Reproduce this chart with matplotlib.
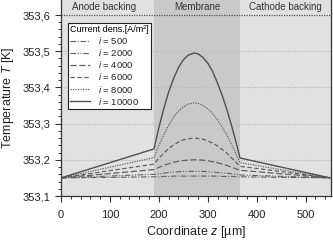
import matplotlib
matplotlib.use("Agg")
import matplotlib.pyplot as plt
from matplotlib.ticker import FuncFormatter, FixedLocator, MultipleLocator

plt.rcParams['font.family'] = ['Liberation Sans', 'DejaVu Sans']
plt.rcParams['mathtext.fontset'] = 'custom'
plt.rcParams['mathtext.it'] = 'Liberation Sans:italic'
plt.rcParams['mathtext.rm'] = 'Liberation Sans'

# ---- data ----
z_um = [0, 190, 200, 210, 220, 230, 240, 250, 260, 272, 280, 290, 300, 310,
        320, 330, 340, 350, 358, 366, 550]

T_500 = [353.150, 353.153, 353.153, 353.154, 353.154, 353.155, 353.155, 353.155,
         353.155, 353.155, 353.155, 353.155, 353.155, 353.155, 353.155, 353.154,
         353.154, 353.154, 353.153, 353.153, 353.150]
T_2000 = [353.150, 353.160, 353.161, 353.163, 353.165, 353.166, 353.167, 353.168,
          353.168, 353.168, 353.168, 353.168, 353.167, 353.166, 353.165, 353.164,
          353.163, 353.161, 353.160, 353.158, 353.150]
T_4000 = [353.150, 353.173, 353.179, 353.185, 353.189, 353.193, 353.196, 353.198,
          353.199, 353.200, 353.200, 353.199, 353.197, 353.195, 353.192, 353.188,
          353.184, 353.179, 353.175, 353.171, 353.150]
T_6000 = [353.150, 353.188, 353.204, 353.218, 353.231, 353.241, 353.249, 353.255,
          353.258, 353.260, 353.259, 353.257, 353.252, 353.246, 353.238, 353.228,
          353.217, 353.204, 353.193, 353.182, 353.150]
T_8000 = [353.150, 353.206, 353.239, 353.269, 353.295, 353.317, 353.334, 353.346,
          353.354, 353.357, 353.356, 353.350, 353.341, 353.328, 353.310, 353.289,
          353.266, 353.239, 353.216, 353.192, 353.150]
T_10000 = [353.150, 353.230, 353.288, 353.341, 353.387, 353.424, 353.454, 353.476,
           353.489, 353.495, 353.493, 353.483, 353.467, 353.444, 353.412, 353.376,
           353.335, 353.288, 353.248, 353.205, 353.150]

current_labels = ["500", "2000", "4000", "6000", "8000", "10000"]
series = [T_500, T_2000, T_4000, T_6000, T_8000, T_10000]

regions = ["Anode backing", "Membrane", "Cathode backing"]
region_bounds = [(0, 190), (190, 366), (366, 552)]

# ---- styles ----
styles = [
    dict(color="#606060", lw=0.8, ls=(0, (5, 1.5, 1, 1.5))),
    dict(color="#606060", lw=0.8, ls=(0, (5, 1.5, 1, 1.5, 1, 1.5))),
    dict(color="#606060", lw=0.9, ls=(0, (5, 2))),
    dict(color="#606060", lw=0.9, ls=(0, (3.5, 2))),
    dict(color="#606060", lw=0.9, ls=(0, (1, 1))),
    dict(color="#505050", lw=1.0, ls="-"),
]
region_colors = ["#e1e1e1", "#c9c9c9", "#e1e1e1"]

fig = plt.figure(figsize=(3.33, 2.42), dpi=100)
ax = fig.add_axes([61 / 333, 46 / 242, 270 / 333, 196 / 242])

ymin, ymax = 353.1, 353.6 + 15 / 362
ax.set_xlim(0, 552)
ax.set_ylim(ymin, ymax)

for (a, b), c in zip(region_bounds, region_colors):
    ax.axvspan(a, b, color=c, lw=0, zorder=0)

for y in [353.2, 353.3, 353.4, 353.5]:
    ax.axhline(y, color="#bdbdbd", lw=0.8, ls=(0, (1, 1)), zorder=1)
ax.axhline(353.6, color="#505050", lw=0.9, ls=(0, (1, 1)), zorder=1)

label_x = [88, 278, 459]
for name, xc in zip(regions, label_x):
    ax.text(xc, 353.621, name, ha="center", va="center", fontsize=7,
            color="#333333")

handles = []
for lab, T, st in zip(current_labels, series, styles):
    h, = ax.plot(z_um, T, zorder=3, label=r"$i$ = " + lab, **st)
    handles.append(h)

leg = ax.legend(handles=handles, title="Current dens.[A/m²]", loc="upper left",
                bbox_to_anchor=(0.026, 0.885), fontsize=6.8, title_fontsize=6.5,
                frameon=True, fancybox=False, edgecolor="#222222",
                framealpha=1.0, handlelength=2.1, handletextpad=0.8,
                labelspacing=0.12, borderpad=0.25, borderaxespad=0,
                alignment="left")
leg.get_frame().set_linewidth(0.8)
for t in leg.get_texts():
    t.set_color("#222222")

ax.set_yticks([353.1, 353.2, 353.3, 353.4, 353.5, 353.6])
ax.set_xticks([0, 100, 200, 300, 400, 500])
ax.xaxis.set_minor_locator(MultipleLocator(20))
ax.yaxis.set_major_formatter(FuncFormatter(lambda v, p: f"{v:.1f}".replace(".", ",")))
ax.yaxis.set_minor_locator(FixedLocator(
    [353.1 + 0.02 * k for k in range(26) if (k % 5) != 0]))

ax.tick_params(axis="both", which="major", direction="out", length=4,
               width=0.8, labelsize=8, colors="#333333", labelcolor="#222222")
ax.tick_params(axis="both", which="minor", direction="out", length=2.5,
               width=0.7, colors="#333333")
ax.tick_params(axis="x", pad=6)

for s in ["left", "bottom", "right"]:
    ax.spines[s].set_color("#333333")
    ax.spines[s].set_linewidth(0.9)
ax.spines["top"].set_visible(False)

ax.set_xlabel(r"Coordinate $z$ [µm]", fontsize=9, color="#222222", labelpad=3)
ax.set_ylabel(r"Temperature $T$ [K]", fontsize=9, color="#222222", labelpad=5)

fig.savefig("out.png", dpi=100)
